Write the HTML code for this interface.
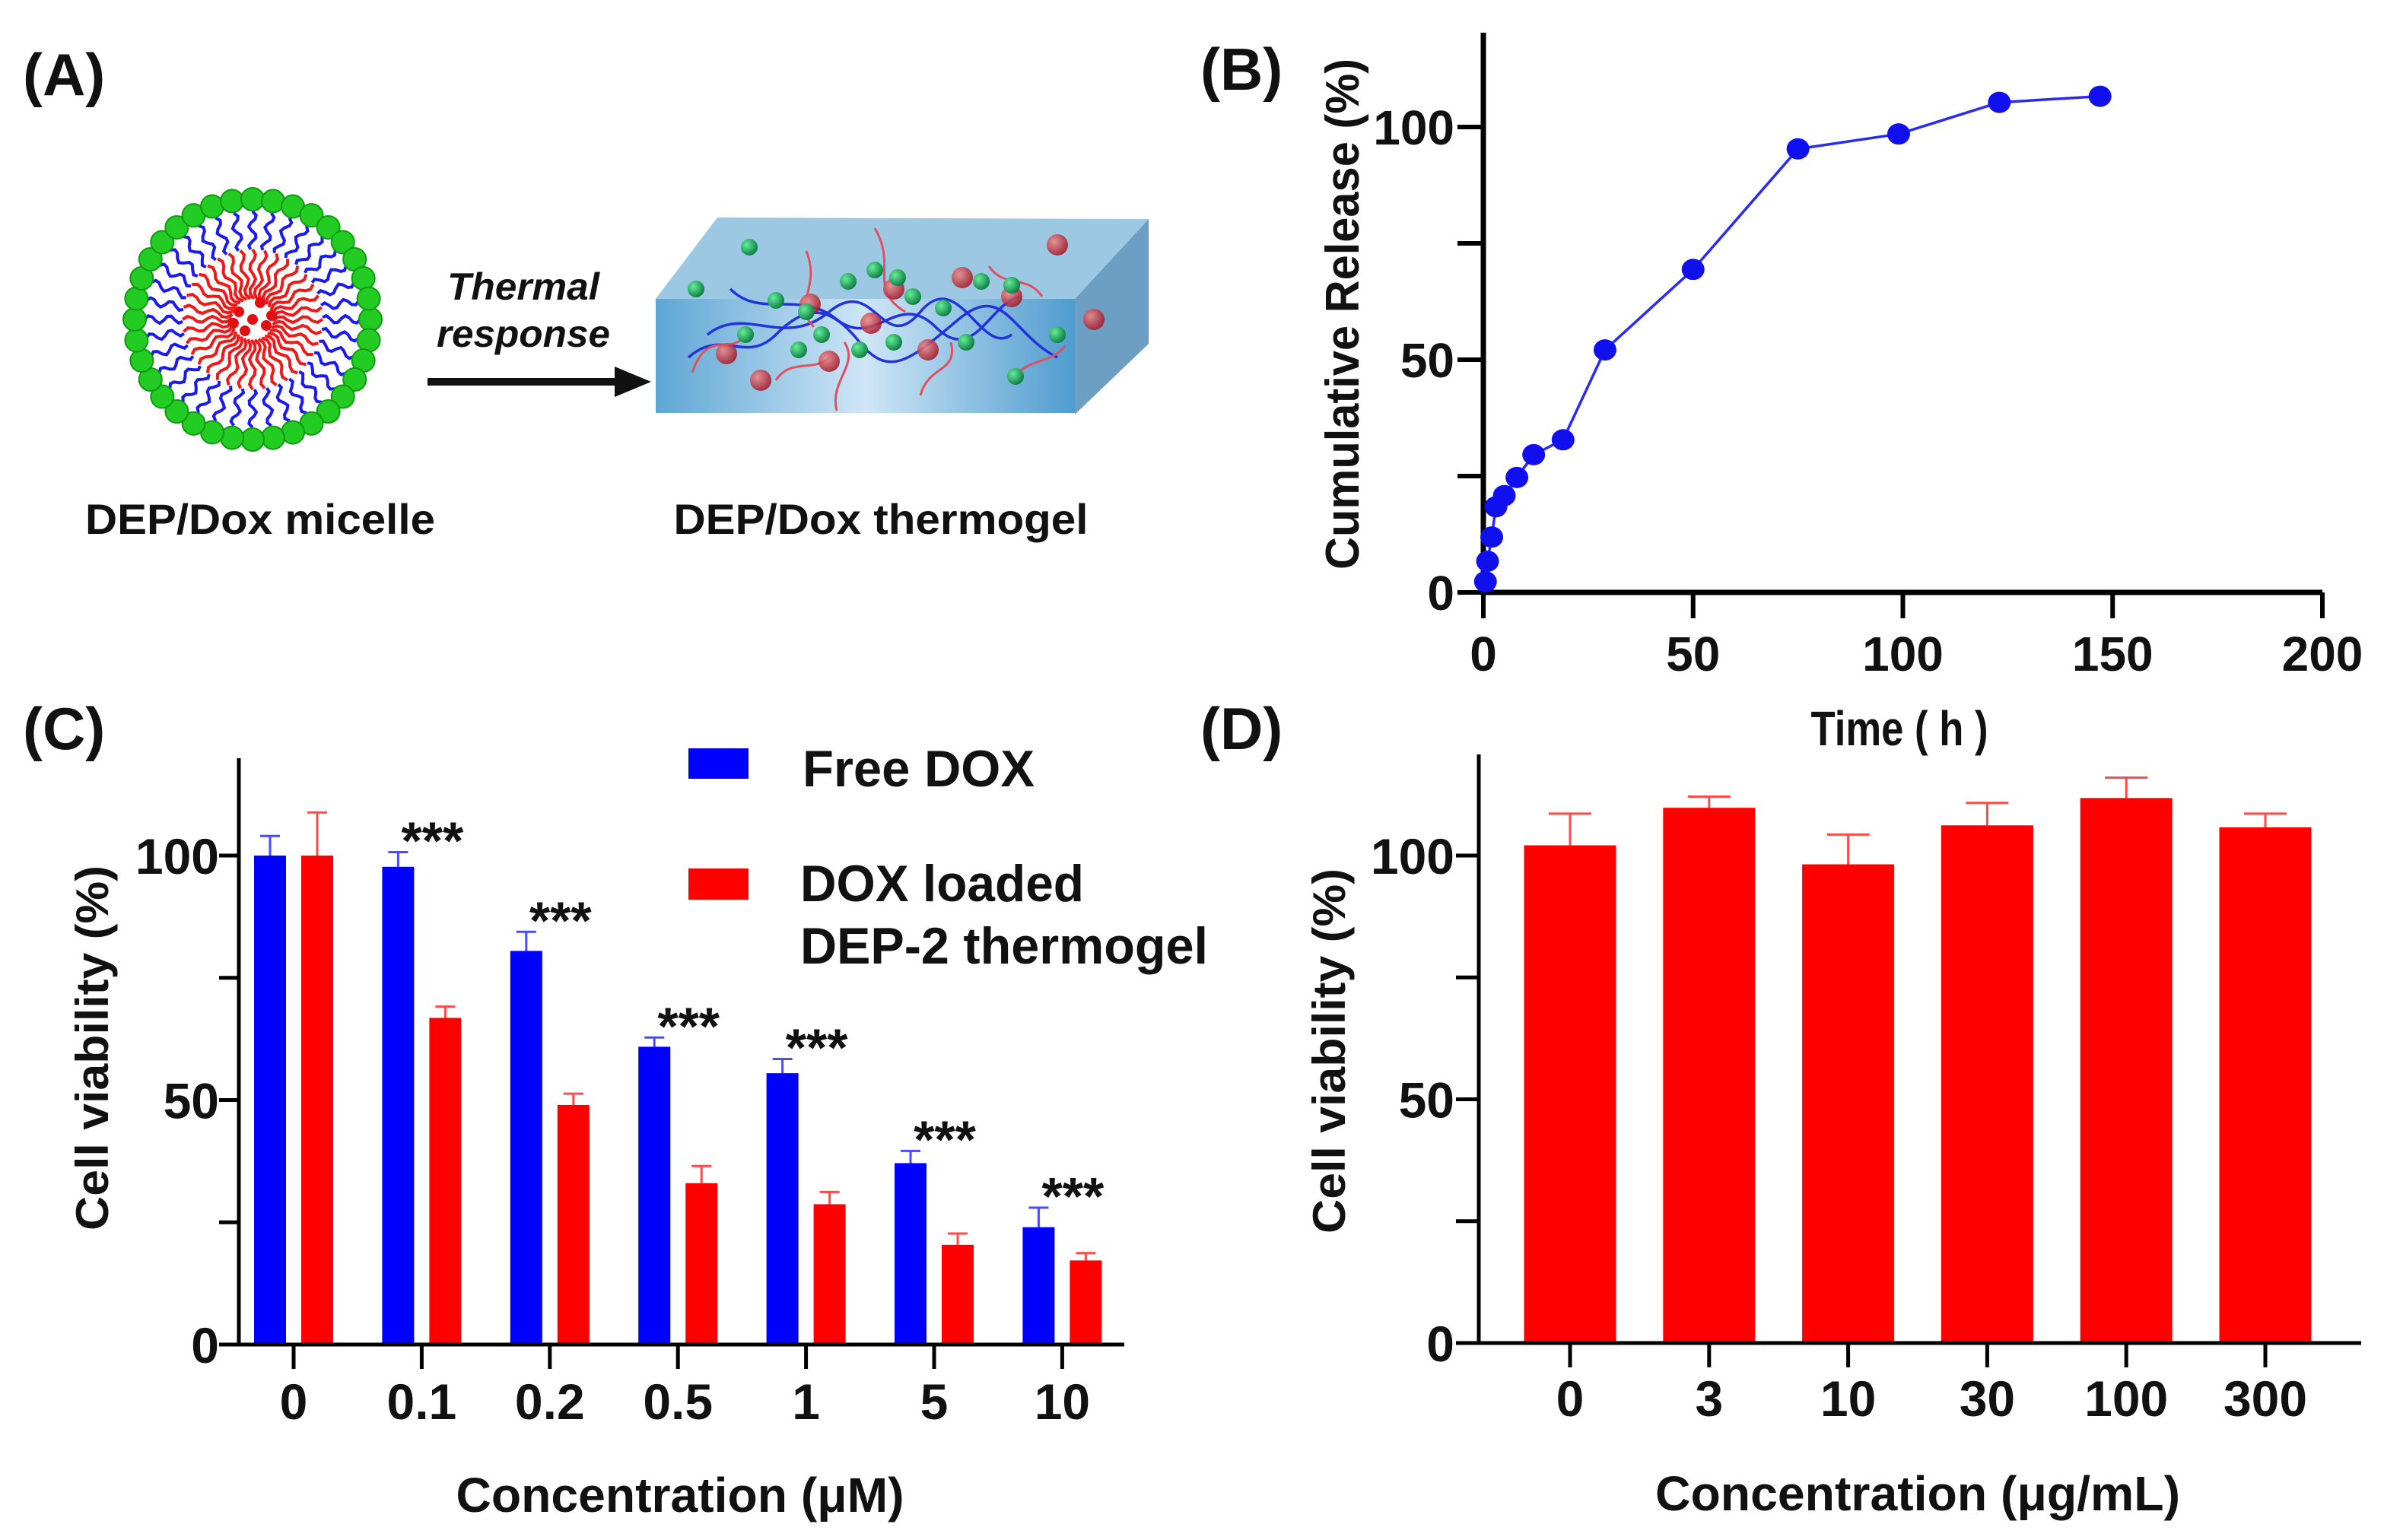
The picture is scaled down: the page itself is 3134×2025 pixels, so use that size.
<!DOCTYPE html>
<html><head><meta charset="utf-8"><title>DEP/Dox figure</title>
<style>
html,body{margin:0;padding:0;background:#fff;}
svg{display:block;font-family:"Liberation Sans",sans-serif;font-weight:bold;}
</style></head>
<body>
<svg id="fig" xmlns="http://www.w3.org/2000/svg" width="3134" height="2025" viewBox="0 0 3134 2025">
<defs>
<linearGradient id="gelFront" x1="0" y1="0" x2="1" y2="0">
<stop offset="0" stop-color="#5ea6d4"/><stop offset="0.5" stop-color="#cfe6f6"/><stop offset="1" stop-color="#4f9ccf"/>
</linearGradient>
<radialGradient id="ballR" cx="0.35" cy="0.35" r="0.7"><stop offset="0" stop-color="#e88"/><stop offset="1" stop-color="#a01020"/></radialGradient>
<radialGradient id="ballG" cx="0.35" cy="0.35" r="0.7"><stop offset="0" stop-color="#6e9"/><stop offset="1" stop-color="#0a7a40"/></radialGradient>
</defs>
<rect width="3134" height="2025" fill="#fff"/>
<g id="panelA"></g>
<g id="panelB"></g>
<g id="panelC"></g>
<g id="panelD"></g>
</svg>
<script>
// ===== Panel B data =====
const releaseTimes = [0.5, 1, 2, 3, 5, 8, 12, 19, 29, 50, 75, 99, 123, 147];
const releaseValues = [2.3, 6.7, 11.9, 18.4, 20.8, 24.7, 29.6, 32.8, 52.1, 69.4, 95.3, 98.5, 105.3, 106.6];
const releaseXTicks = [0, 50, 100, 150, 200];
const releaseYTicks = [0, 50, 100];
// ===== Panel C data =====
const doxCategories = ["0", "0.1", "0.2", "0.5", "1", "5", "10"];
const freeDoxValues = [100, 97.7, 80.5, 60.9, 55.5, 37.1, 24];
const freeDoxErrors = [4, 3, 3.9, 1.9, 2.9, 2.5, 4];
const gelDoxValues = [100, 66.8, 49, 33, 28.7, 20.4, 17.2];
const gelDoxErrors = [8.8, 2.3, 2.3, 3.5, 2.5, 2.3, 1.5];
const doxStars = ["", "***", "***", "***", "***", "***", "***"];
const viabilityYTicks = [0, 50, 100];
// ===== Panel D data =====
const gelCategories = ["0", "3", "10", "30", "100", "300"];
const gelValues = [102.1, 109.8, 98.2, 106.2, 111.8, 105.8];
const gelErrors = [6.5, 2.3, 6.1, 4.6, 4.2, 2.8];

const NS = "http://www.w3.org/2000/svg";
function mk(parent, tag, attrs, text){
  const e = document.createElementNS(NS, tag);
  for (const k in attrs) e.setAttribute(k, attrs[k]);
  if (attrs.textLength) e.setAttribute('lengthAdjust', 'spacingAndGlyphs');
  if (text !== undefined) e.textContent = text;
  parent.appendChild(e);
  return e;
}

// ---------- Panel labels ----------
const fig = document.getElementById('fig');
[["(A)",30,125],["(B)",1578,118],["(C)",30,985],["(D)",1578,985]].forEach(function(p){
  const t = mk(fig,'text',{x:p[1],y:p[2],'font-size':78,fill:'#111'},p[0]);
  
  
});

// ---------- Panel A schematic ----------
(function(){
  const g = document.getElementById('panelA');
  const cx = 332, cy = 420;
  const mic = mk(g,'g',{});
  
  
  const n = 36;
  for (let i=0;i<n;i++){
    const a = i/n*2*Math.PI;
    const ca=Math.cos(a), sa=Math.sin(a), px=-sa, py=ca;
    let d1='', d2='';
    for (let s=0;s<=10;s++){
      const r = 142 - s*5; const w = 5*Math.sin(s*1.2);
      d1 += (s?'L':'M')+(cx+ca*r+px*w).toFixed(1)+','+(cy+sa*r+py*w).toFixed(1);
    }
    for (let s=0;s<=10;s++){
      const r = 92 - s*6.5; const w = 4*Math.sin(s*1.3);
      d2 += (s?'L':'M')+(cx+ca*r+px*w).toFixed(1)+','+(cy+sa*r+py*w).toFixed(1);
    }
    mk(mic,'path',{d:d1,stroke:'#1a1aee','stroke-width':4,fill:'none'});
    mk(mic,'path',{d:d2,stroke:'#ee1a1a','stroke-width':4,fill:'none'});
  }
  [[-18,-10],[10,-22],[-10,15],[18,8],[0,0],[25,-5],[-25,5]].forEach(function(o){
    mk(mic,'circle',{cx:cx+o[0],cy:cy+o[1],r:7,fill:'#e01010'});
  });
  for (let i=0;i<n;i++){
    const a = i/n*2*Math.PI;
    mk(mic,'circle',{cx:cx+Math.cos(a)*155,cy:cy+Math.sin(a)*158,r:15,fill:'#22cc22',stroke:'#119911','stroke-width':2});
  }
  const ar = mk(g,'g',{});
  
  
  mk(ar,'rect',{x:562,y:497,width:250,height:10,fill:'#111'});
  mk(ar,'polygon',{points:'808,482 856,502 808,522',fill:'#111'});
  const t1 = mk(g,'text',{x:688,y:394,'font-size':50,'font-style':'italic','text-anchor':'middle',fill:'#111',textLength:200},'Thermal');
  
  
  const t2 = mk(g,'text',{x:688,y:456,'font-size':50,'font-style':'italic','text-anchor':'middle',fill:'#111',textLength:228},'response');
  
  
  const gel = mk(g,'g',{});
  
  
  mk(gel,'polygon',{points:'862,393 943,286 1510,288 1413,393',fill:'#9cc8e4'});
  mk(gel,'polygon',{points:'1413,393 1510,288 1510,452 1413,545',fill:'#6d9fc4'});
  mk(gel,'rect',{x:862,y:393,width:551,height:150,fill:'url(#gelFront)'});
  const chains = ['M905,470 C950,430 980,480 1020,440 S1090,400 1130,450 S1200,470 1260,420 S1330,440 1390,470',
                  'M960,380 C1000,420 1050,380 1100,420 S1180,380 1230,430 S1300,400 1340,390',
                  'M930,440 C980,400 1030,460 1090,410 S1160,470 1210,410 S1290,470 1330,440'];
  chains.forEach(function(d){ mk(gel,'path',{d:d,stroke:'#2233dd','stroke-width':3.5,fill:'none'}); });
  const reds = ['M910,490 C930,430 960,470 980,440','M1060,330 C1080,380 1040,400 1070,430','M1150,300 C1180,350 1140,380 1190,410',
                'M1100,540 C1090,500 1130,480 1110,450','M1210,520 C1220,480 1260,490 1250,450','M1300,350 C1320,380 1350,360 1370,390',
                'M1020,500 C1040,470 1070,490 1090,470','M1330,500 C1350,470 1380,480 1400,455'];
  reds.forEach(function(d){ mk(gel,'path',{d:d,stroke:'#e05060','stroke-width':3,fill:'none'}); });
  [[1065,400],[1175,380],[1265,365],[1330,390],[955,465],[1000,500],[1090,475],[1145,425],[1220,460],[1390,322],[1438,420]].forEach(function(p){
    mk(gel,'circle',{cx:p[0],cy:p[1],r:14,fill:'url(#ballR)',opacity:0.85});
  });
  [[985,325],[915,380],[1020,395],[1060,410],[1115,370],[1150,355],[1180,365],[1200,390],[1240,405],[1290,370],[1330,375],[980,440],[1080,440],[1130,460],[1175,450],[1270,450],[1335,495],[1390,440],[1050,460]].forEach(function(p){
    mk(gel,'circle',{cx:p[0],cy:p[1],r:11,fill:'url(#ballG)'});
  });
  const l1 = mk(g,'text',{x:342,y:702,'font-size':56,'text-anchor':'middle',fill:'#111',textLength:460},'DEP/Dox micelle');
  
  
  const l2 = mk(g,'text',{x:1158,y:702,'font-size':56,'text-anchor':'middle',fill:'#111',textLength:545},'DEP/Dox thermogel');
  
  
})();

// ---------- Panel B ----------
(function(){
  const g = document.getElementById('panelB');
  const X0=1950, X1=3053, Y0=779, Y100=167;
  const xs = v => X0 + (X1-X0)*v/200;
  const ys = v => Y0 - (Y0-Y100)*v/100;
  const ax = mk(g,'path',{d:'M'+X0+',43 L'+X0+','+Y0+' L'+X1+','+Y0,stroke:'#000','stroke-width':7,fill:'none'});
  
  
  [0,25,50,75,100].forEach(function(v){
    const tk = mk(g,'line',{x1:X0-34,x2:X0,y1:ys(v),y2:ys(v),stroke:'#000','stroke-width':6});
    
    
  });
  releaseYTicks.forEach(function(v){
    const t = mk(g,'text',{x:1912,y:ys(v)+23,'font-size':64,'text-anchor':'end',fill:'#111'},String(v));
    
    
  });
  releaseXTicks.forEach(function(v){
    const tk = mk(g,'line',{x1:xs(v),x2:xs(v),y1:Y0,y2:Y0+34,stroke:'#000','stroke-width':6});
    
    
    const t = mk(g,'text',{x:xs(v),y:882,'font-size':64,'text-anchor':'middle',fill:'#111'},String(v));
    
    
  });
  let d='';
  releaseTimes.forEach(function(t,i){ d += (i?'L':'M')+xs(t).toFixed(1)+','+ys(releaseValues[i]).toFixed(1); });
  const line = mk(g,'path',{d:d,stroke:'#2a2af5','stroke-width':3.5,fill:'none'});
  
  
  releaseTimes.forEach(function(t,i){
    const c = mk(g,'ellipse',{cx:xs(t),cy:ys(releaseValues[i]),rx:15,ry:14,fill:'#1010ee'});
    
    
  });
  const xl = mk(g,'text',{x:2497,y:980,'font-size':64,'text-anchor':'middle',fill:'#111',textLength:233},'Time ( h )');
  
  
  const yl = mk(g,'text',{x:0,y:0,'font-size':62,'text-anchor':'middle',fill:'#111',textLength:672,transform:'translate(1786,413) rotate(-90)'},'Cumulative Release (%)');
  
  
})();

// ---------- Panel C ----------
(function(){
  const g = document.getElementById('panelC');
  const X0=314, X1=1478, Y0=1768, Y100=1125;
  const ys = v => Y0 - (Y0-Y100)*v/100;
  const xc = i => 386 + i*168.4;
  const bw = 42, off = 31;
  function bar(x, v, e, color, ecolor, name){
    const r = mk(g,'rect',{x:x-bw/2,y:ys(v),width:bw,height:Y0-ys(v),fill:color});
    
    
    const eb = mk(g,'path',{d:'M'+x+','+ys(v)+' L'+x+','+ys(v+e)+' M'+(x-13)+','+ys(v+e)+' L'+(x+13)+','+ys(v+e),stroke:ecolor,'stroke-width':3,fill:'none'});
    
    
  }
  doxCategories.forEach(function(c,i){
    bar(xc(i)-off, freeDoxValues[i], freeDoxErrors[i], '#0000ff', '#4a4aff', 'free-dox-bar');
    bar(xc(i)+off, gelDoxValues[i], gelDoxErrors[i], '#ff0000', '#ff4a4a', 'gel-dox-bar');
    if (doxStars[i]){
      const top = Math.max(freeDoxValues[i]+freeDoxErrors[i], gelDoxValues[i]+gelDoxErrors[i]);
      const s = mk(g,'text',{x:xc(i)+14,y:ys(top+2)+22,'font-size':70,'text-anchor':'middle',fill:'#111'},doxStars[i]);
      
      
    }
  });
  const ax = mk(g,'path',{d:'M'+X0+',997 L'+X0+','+Y0+' L'+X1+','+Y0,stroke:'#000','stroke-width':5,fill:'none'});
  
  
  [0,25,50,75,100].forEach(function(v){
    const tk = mk(g,'line',{x1:X0-26,x2:X0,y1:ys(v),y2:ys(v),stroke:'#000','stroke-width':5});
    
    
  });
  viabilityYTicks.forEach(function(v){
    const t = mk(g,'text',{x:288,y:ys(v)+24,'font-size':66,'text-anchor':'end',fill:'#111'},String(v));
    
    
  });
  doxCategories.forEach(function(c,i){
    const tk = mk(g,'line',{x1:xc(i),x2:xc(i),y1:Y0,y2:Y0+32,stroke:'#000','stroke-width':5});
    
    
    const t = mk(g,'text',{x:xc(i),y:1866,'font-size':66,'text-anchor':'middle',fill:'#111'},c);
    
    
  });
  const xl = mk(g,'text',{x:894,y:1988,'font-size':64,'text-anchor':'middle',fill:'#111',textLength:589},'Concentration (μM)');
  
  
  const yl = mk(g,'text',{x:0,y:0,'font-size':60,'text-anchor':'middle',fill:'#111',textLength:480,transform:'translate(142,1378) rotate(-90)'},'Cell viability (%)');
  
  
  const lg = mk(g,'g',{});
  
  
  const r1 = mk(lg,'rect',{x:905,y:984,width:79,height:40,fill:'#0000ff'});
  
  
  const lt1 = mk(lg,'text',{x:1055,y:1034,'font-size':68,fill:'#111',textLength:305},'Free DOX');
  
  
  const r2 = mk(lg,'rect',{x:905,y:1142,width:79,height:41,fill:'#ff0000'});
  
  
  const lt2 = mk(lg,'text',{x:1052,y:1185,'font-size':68,fill:'#111',textLength:373},'DOX loaded');
  
  
  const lt3 = mk(lg,'text',{x:1052,y:1267,'font-size':68,fill:'#111',textLength:536},'DEP-2 thermogel');
  
  
})();

// ---------- Panel D ----------
(function(){
  const g = document.getElementById('panelD');
  const X0=1944, X1=3104, Y0=1766, Y100=1125;
  const ys = v => Y0 - (Y0-Y100)*v/100;
  const xc = i => 2064 + i*182.8;
  const bw = 121;
  gelCategories.forEach(function(c,i){
    const x = xc(i), v = gelValues[i], e = gelErrors[i];
    const r = mk(g,'rect',{x:x-bw/2,y:ys(v),width:bw,height:Y0-ys(v),fill:'#ff0000'});
    
    
    const eb = mk(g,'path',{d:'M'+x+','+ys(v)+' L'+x+','+ys(v+e)+' M'+(x-28)+','+ys(v+e)+' L'+(x+28)+','+ys(v+e),stroke:'#ff4a4a','stroke-width':3,fill:'none'});
    
    
  });
  const ax = mk(g,'path',{d:'M'+X0+',992 L'+X0+','+Y0+' L'+X1+','+Y0,stroke:'#000','stroke-width':5,fill:'none'});
  
  
  [0,25,50,75,100].forEach(function(v){
    const tk = mk(g,'line',{x1:X0-30,x2:X0,y1:ys(v),y2:ys(v),stroke:'#000','stroke-width':5});
    
    
  });
  viabilityYTicks.forEach(function(v){
    const t = mk(g,'text',{x:1912,y:ys(v)+24,'font-size':66,'text-anchor':'end',fill:'#111'},String(v));
    
    
  });
  gelCategories.forEach(function(c,i){
    const tk = mk(g,'line',{x1:xc(i),x2:xc(i),y1:Y0,y2:Y0+32,stroke:'#000','stroke-width':5});
    
    
    const t = mk(g,'text',{x:xc(i),y:1862,'font-size':66,'text-anchor':'middle',fill:'#111'},c);
    
    
  });
  const xl = mk(g,'text',{x:2521,y:1986,'font-size':64,'text-anchor':'middle',fill:'#111',textLength:690},'Concentration (μg/mL)');
  
  
  const yl = mk(g,'text',{x:0,y:0,'font-size':60,'text-anchor':'middle',fill:'#111',textLength:480,transform:'translate(1768,1382) rotate(-90)'},'Cell viability (%)');
  
  
})();
</script>
</body></html>
